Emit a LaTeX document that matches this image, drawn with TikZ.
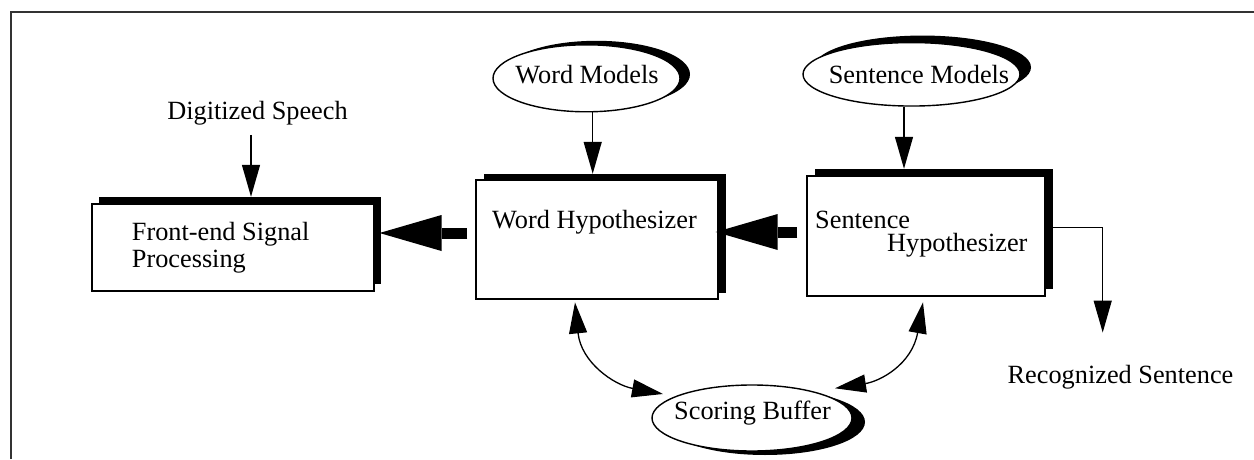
\documentclass[tikz,border=0pt]{standalone}
\usepackage{fontspec}
\setmainfont{Liberation Serif}
\usetikzlibrary{arrows.meta,shapes.geometric}
\begin{document}
\begin{tikzpicture}[x=1pt,y=1pt,
  lbl/.style={font=\fontsize{26.3}{27}\selectfont, inner sep=0pt},
  procbox/.style={draw=black, fill=white, line width=1.4pt, rectangle, inner sep=0pt},
  boxshade/.style={fill=black, rectangle, inner sep=0pt},
  oval/.style={draw=black, fill=white, line width=1.4pt, ellipse, inner sep=0pt},
  ovalshade/.style={fill=black, ellipse, inner sep=0pt},
  flow/.style={line width=1.3pt, -{Triangle[length=32pt,width=18pt]}},
  link/.style={line width=1.3pt, {Triangle[length=31pt,width=18pt]}-{Triangle[length=31pt,width=18pt]}},
  bigflow/.style={line width=11pt, -{Triangle[length=62pt,width=36pt,line width=0pt]}}
]
\useasboundingbox (0,0) rectangle (1254,459);

% outer frame (top and left edges)
\draw[black!80, line width=2pt] (11,0) -- (11,447) -- (1254,447);

% processing boxes: black offset shade, then the white box
\node[boxshade, minimum width=282pt, minimum height=87pt]  (fes) at (240,218.5) {};
\node[procbox,  minimum width=282pt, minimum height=87pt]  (fe)  at (233,211.5) {};
\node[boxshade, minimum width=242pt, minimum height=119pt] (whs) at (605,225.5) {};
\node[procbox,  minimum width=242pt, minimum height=119pt] (wh)  at (597,219.5) {};
\node[boxshade, minimum width=238pt, minimum height=120pt] (shs) at (934,230) {};
\node[procbox,  minimum width=238pt, minimum height=120pt] (sh)  at (926,223) {};

% model and buffer ovals
\node[ovalshade, minimum width=187pt, minimum height=67pt]   (wms) at (596.5,384.7) {};
\node[oval,      minimum width=187pt, minimum height=67pt]   (wm)  at (586.5,380.7) {};
\node[ovalshade, minimum width=217pt, minimum height=63.5pt] (sms) at (922.5,391.7) {};
\node[oval,      minimum width=217pt, minimum height=63.5pt] (sm)  at (911.5,384.7) {};
\node[ovalshade, minimum width=200pt, minimum height=66pt]   (sbs) at (765,37) {};
\node[oval,      minimum width=200pt, minimum height=66pt]   (sb)  at (752,41) {};

% labels
\node[lbl, anchor=base]      (ds)  at (257.5,340)  {Digitized Speech};
\node[lbl, anchor=base west] (fe1) at (131.7,219)  {Front-end Signal};
\node[lbl, anchor=base west] (fe2) at (131.7,192)  {Processing};
\node[lbl, anchor=base west] (wht) at (492,231)    {Word Hypothesizer};
\node[lbl, anchor=base west] (sh1) at (815,231)    {Sentence};
\node[lbl, anchor=base west] (sh2) at (887,207.3)  {Hypothesizer};
\node[lbl, anchor=base]      (rs)  at (1120.5,76)  {Recognized Sentence};
\node[lbl, anchor=base]      (wmt) at (587,375.7)  {Word Models};
\node[lbl, anchor=base]      (smt) at (919,375)    {Sentence Models};
\node[lbl, anchor=base]      (sbt) at (752.5,40)   {Scoring Buffer};

% thin arrows
\path ([xshift=-6.5pt,yshift=-10pt]ds.south) coordinate (dsa);
\draw[flow] (dsa) -- (dsa |- fes.north);
\path ([xshift=6.2pt]wm.south) coordinate (wma);
\draw[flow] (wma) -- (wma |- whs.north);
\path ([xshift=-7.5pt]sm.south) coordinate (sma);
\draw[flow] (sma) -- (sma |- shs.north);
\path ([xshift=-17.8pt,yshift=32pt]rs.north) coordinate (rsa);
\draw[flow] ([yshift=1.3pt]shs.east) -| (rsa);

% heavy data-flow arrows
\path ([xshift=-9pt,yshift=4pt]sh.west) coordinate (f2);
\draw[bigflow, shorten >=-3pt] (f2) -- (f2 -| wh.east);
\path ([xshift=-8pt,yshift=6.5pt]wh.west) coordinate (f1);
\draw[bigflow, shorten >=-1.7pt] (f1) -- (f1 -| fes.east);

% two-way links to the scoring buffer
\path ([xshift=-22pt,yshift=-2.7pt]wh.south) coordinate (whl);
\path ([xshift=-89pt,yshift=24pt]sb.center) coordinate (sbl);
\draw[link] (whl) .. controls +(6,-60) and +(-49,9) .. (sbl);
\path ([xshift=-3pt,yshift=-5.7pt]sh.south) coordinate (shl);
\path ([xshift=83pt,yshift=29.7pt]sb.center) coordinate (sbr);
\draw[link] (shl) .. controls +(-11,-62) and +(45,7) .. (sbr);
\end{tikzpicture}
\end{document}
